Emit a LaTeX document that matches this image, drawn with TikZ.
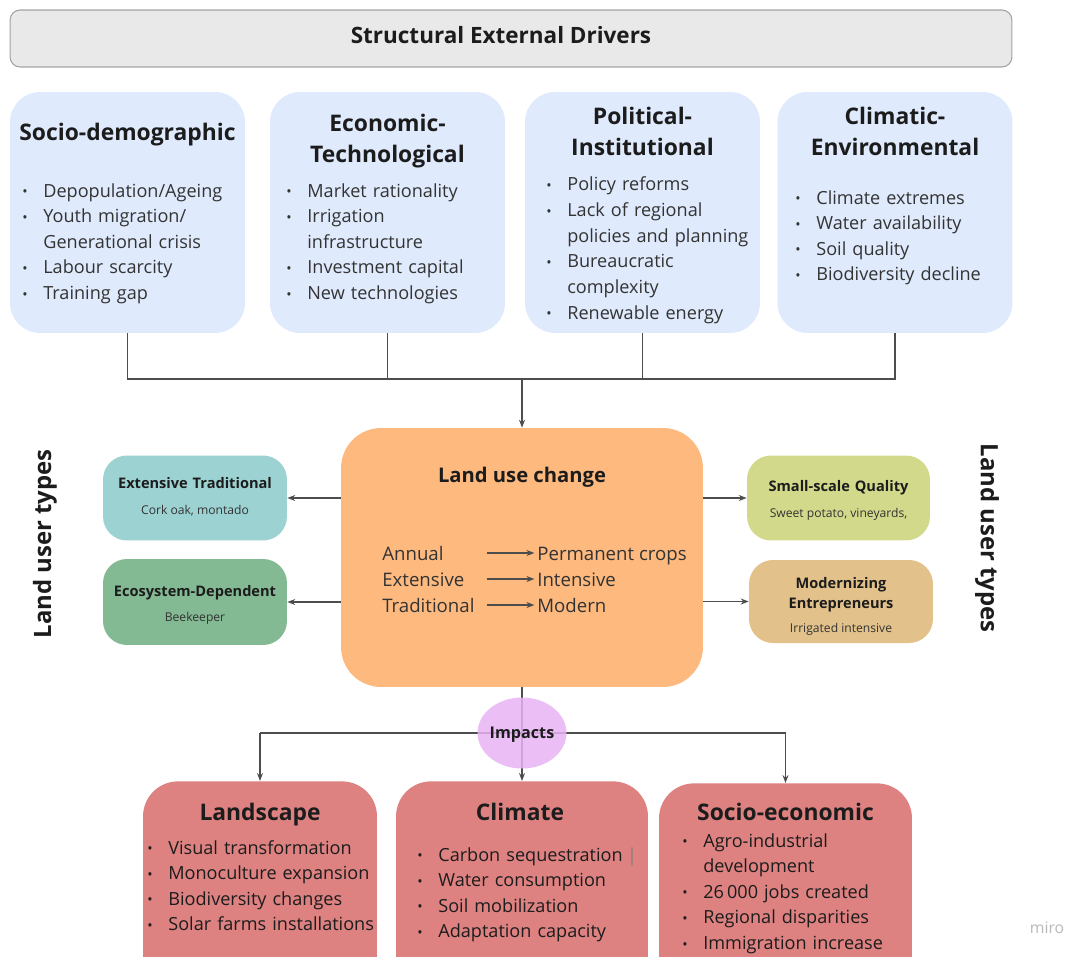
\documentclass[tikz,border=0pt]{standalone}
\usepackage{graphicx}
\usepackage{fontspec}
\setmainfont{Open Sans}
\usetikzlibrary{arrows.meta,shapes.geometric}

\definecolor{driverblue}{HTML}{DFEAFC}
\definecolor{bannergray}{HTML}{E9E9E9}
\definecolor{bannerline}{HTML}{A3A3A3}
\definecolor{lucorange}{HTML}{FDB97E}
\definecolor{tealbox}{HTML}{9DD2D3}
\definecolor{greenbox}{HTML}{84BA93}
\definecolor{limebox}{HTML}{D2D98B}
\definecolor{tanbox}{HTML}{E2C18A}
\definecolor{impactpink}{HTML}{E8B4F5}
\definecolor{impactred}{HTML}{DD8181}
\definecolor{linegray}{HTML}{4D4D4D}
\definecolor{titleink}{HTML}{1C1C1C}
\definecolor{bodyink}{HTML}{333333}

% bullet and hanging indent for the lists
\newcommand{\bl}{\makebox[0.42cm][l]{\raisebox{0.02em}{\scalebox{0.78}{\textbullet}}}}
\newcommand{\nobl}{\hspace*{0.42cm}}

\tikzset{
  roundbox/.style={inner sep=0pt},
  driverbox/.style={roundbox, rounded corners=0.6cm, fill=driverblue, minimum width=4.7cm, minimum height=4.82cm},
  usertype/.style={roundbox, rounded corners=0.48cm, minimum width=3.68cm, minimum height=1.7cm},
  impactbox/.style={roundbox, rounded corners=0.7cm, fill=impactred, minimum height=5cm, anchor=north},
  boxtitle/.style={font=\fontsize{13}{17.6}\selectfont\bfseries, text=titleink, text width=4.6cm, align=center, anchor=base, inner sep=0pt},
  items/.style={font=\fontsize{10.3}{14.6}\selectfont, text=bodyink, text width=5cm, align=left, anchor=base west, inner sep=0pt},
  uttitle/.style={font=\fontsize{8.3}{11.9}\selectfont\bfseries, text=titleink, text width=3.5cm, align=center, anchor=base, inner sep=0pt},
  utsub/.style={font=\fontsize{6.9}{8}\selectfont, text=bodyink, anchor=base, inner sep=0pt},
  sidelabel/.style={font=\fontsize{13.6}{16}\selectfont\bfseries, text=titleink, inner sep=0pt},
  conn/.style={draw=linegray, line width=0.85pt},
  arr/.style={conn, -{Stealth[length=4.5pt,width=3.4pt]}}
}

\begin{document}
\begin{tikzpicture}[x=0.02cm,y=-0.02cm]
  \useasboundingbox (0,0) rectangle (1067,956);
  \clip (0,0) rectangle (1067,956);

  % banner
  \node[roundbox, rounded corners=0.2cm, fill=bannergray, draw=bannerline, line width=0.6pt,
        minimum width=20.04cm, minimum height=1.14cm] (banner) at (511,38.5) {};
  \node[font=\fontsize{12.8}{14}\selectfont\bfseries, text=titleink, anchor=base, inner sep=0pt] (bannertext) at (501,44) {Structural External Drivers};

  % driver boxes
  \node[driverbox] (sd) at (127.5,212.5) {};
  \node[driverbox] (et) at (387.5,212.5) {};
  \node[driverbox] (pi) at (642.5,212.5) {};
  \node[driverbox] (ce) at (895,212.5) {};

  \node[boxtitle] (sdtitle) at (127.5,141) {Socio-demographic};
  \node[boxtitle] (ettitle) at (387.5,132) {Economic-\\Technological};
  \node[boxtitle] (pititle) at (642.5,125) {Political-\\Institutional};
  \node[boxtitle] (cetitle) at (895,125) {Climatic-\\Environmental};

  \node[items] (sdlist) at (22,197) {\bl Depopulation/Ageing\\ \bl Youth migration/\\ \nobl Generational crisis\\ \bl Labour scarcity\\ \bl Training gap};
  \node[items] (etlist) at (286,197) {\bl Market rationality\\ \bl Irrigation\\ \nobl infrastructure\\ \bl Investment capital\\ \bl New technologies};
  \node[items] (pilist) at (546,191) {\bl Policy reforms\\ \bl Lack of regional\\ \nobl policies and planning\\ \bl Bureaucratic\\ \nobl complexity\\ \bl Renewable energy};
  \node[items] (celist) at (795,204) {\bl Climate extremes\\ \bl Water availability\\ \bl Soil quality\\ \bl Biodiversity decline};

  % land use change
  \node[roundbox, rounded corners=0.8cm, fill=lucorange, minimum width=7.24cm, minimum height=5.18cm] (luc) at (522,557.5) {};
  \node[font=\fontsize{11.5}{14}\selectfont\bfseries, text=titleink, anchor=base, inner sep=0pt] (luctitle) at (522,482) {Land use change};
  \foreach \src/\dst [count=\i] in {Annual/Permanent crops, Extensive/Intensive, Traditional/Modern}{
    \node[font=\fontsize{10.6}{14}\selectfont, text=bodyink, anchor=base west, inner sep=0pt] (src\i) at (382,{534+26*\i}) {\src};
    \node[font=\fontsize{10.6}{14}\selectfont, text=bodyink, anchor=base west, inner sep=0pt] (dst\i) at (537,{534+26*\i}) {\dst};
    \coordinate (tail\i) at (487,{527+26*\i});
    \draw[arr, shorten >=1.5pt] (tail\i) -- (tail\i -| dst\i.west);
  }

  % bus from the drivers
  \coordinate (bus) at (522,379);
  \draw[conn] (sd.south) -- (sd.south |- bus) -- (ce.south |- bus) -- (ce.south);
  \draw[conn] (et.south) -- (et.south |- bus);
  \draw[conn] (pi.south) -- (pi.south |- bus);
  \draw[arr] (bus) -- (luc.north);

  % land user types
  \node[usertype, fill=tealbox] (ext) at (195,498) {};
  \node[usertype, fill=greenbox, minimum height=1.72cm] (eco) at (195,602) {};
  \node[usertype, fill=limebox, minimum width=3.66cm] (ssq) at (838.5,498) {};
  \node[usertype, fill=tanbox, minimum height=1.66cm] (mod) at (841,601.5) {};

  \node[uttitle] (exttitle) at (195,488) {Extensive Traditional};
  \node[utsub] (extsub) at (195,514) {Cork oak, montado};
  \node[uttitle] (ecotitle) at (195,596) {Ecosystem-Dependent};
  \node[utsub] (ecosub) at (195,621) {Beekeeper};
  \node[uttitle] (ssqtitle) at (838.5,491) {Small-scale Quality};
  \node[utsub] (ssqsub) at (838.5,517) {Sweet potato, vineyards,};
  \node[uttitle] (modtitle) at (841,588) {Modernizing\\Entrepreneurs};
  \node[utsub] (modsub) at (841,632) {Irrigated intensive};

  \draw[arr] (luc.west |- ext) -- (ext.east);
  \draw[arr] (luc.west |- eco) -- (eco.east);
  \draw[arr] (luc.east |- ssq) -- (ssq.west);
  \draw[arr] (luc.east |- mod) -- (mod.west);

  \node[sidelabel, rotate=90] (leftlabel) at (45,544) {Land user types};
  \node[sidelabel, rotate=-90] (rightlabel) at (987,538) {Land user types};

  % impacts
  \node[impactbox, minimum width=4.68cm] (ls) at (260,781) {};
  \node[impactbox, minimum width=5.04cm] (cl) at (522,781) {};
  \node[impactbox, minimum width=5.06cm] (se) at (785.5,783) {};

  \coordinate (split) at (522,733);
  \draw[conn] (ls.north |- split) -- (se.north |- split);
  \draw[arr] (ls.north |- split) -- (ls.north);
  \draw[arr] (se.north |- split) -- (se.north);
  \draw[arr] (luc.south) -- (cl.north);
  \node[ellipse, fill=impactpink, fill opacity=0.85, text opacity=1, inner sep=0pt,
        minimum width=1.78cm, minimum height=1.42cm] (imp) at (split) {};
  \node[font=\fontsize{9.2}{10}\selectfont\bfseries, text=titleink, anchor=base, inner sep=0pt] (imptext) at (522,738) {Impacts};

  \node[boxtitle] (lstitle) at (260,820) {Landscape};
  \node[boxtitle] (cltitle) at (520,820) {Climate};
  \node[boxtitle] (setitle) at (785.5,820) {Socio-economic};

  \node[items, text=titleink] (lslist) at (147,854) {\bl Visual transformation\\ \bl Monoculture expansion\\ \bl Biodiversity changes\\ \bl Solar farms installations};
  \node[items, text=titleink] (cllist) at (417,861) {\bl Carbon sequestration\hspace{0.25em}{\color{gray}|}\\ \bl Water consumption\\ \bl Soil mobilization\\ \bl Adaptation capacity};
  \node[items, text=titleink] (selist) at (682,847) {\bl Agro-industrial\\ \nobl development\\ \bl 26\,000 jobs created\\ \bl Regional disparities\\ \bl Immigration increase};

  \node[font=\fontsize{9}{10}\selectfont, text=gray!55, inner sep=0pt] (miro) at (1047,928) {miro};
\end{tikzpicture}
\end{document}
